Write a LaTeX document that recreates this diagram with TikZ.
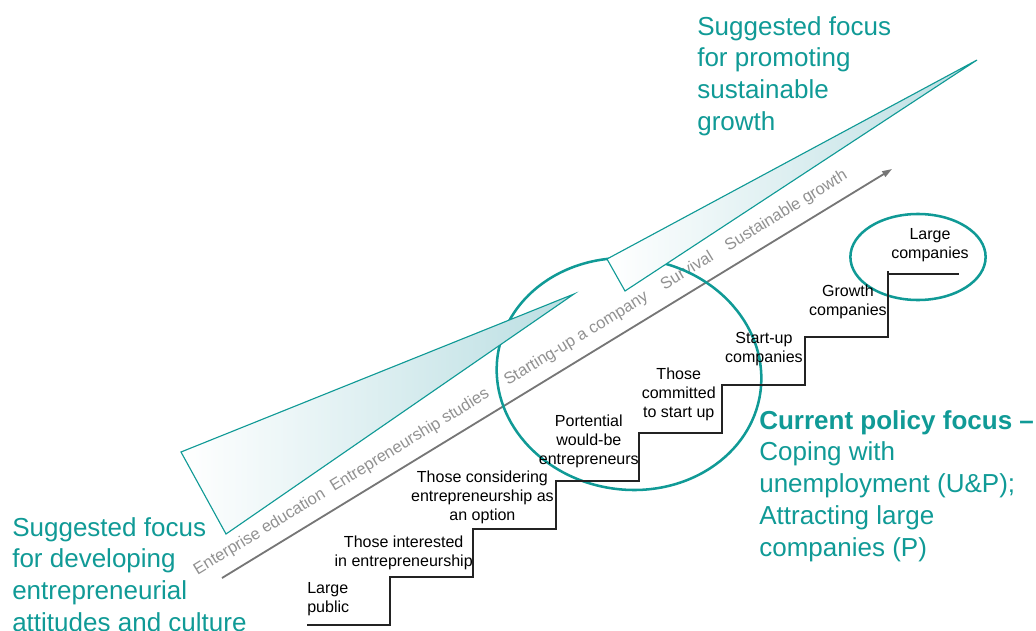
\documentclass[tikz,border=0pt]{standalone}
\usepackage{fontspec}
\setmainfont{Liberation Sans}
\usetikzlibrary{arrows.meta, shapes.geometric}

\definecolor{focusteal}{RGB}{16,154,150}
\definecolor{wedgefill}{RGB}{186,222,226}
\definecolor{axisgray}{RGB}{118,118,118}
\definecolor{labelgray}{RGB}{145,145,145}
\definecolor{stairink}{RGB}{35,35,35}

\begin{document}
\begin{tikzpicture}[
    x=0.025cm, y=-0.025cm,
    focus text/.style={
        text=focusteal, align=left, inner sep=0pt, anchor=north west,
        font=\fontsize{18.5}{22.6}\selectfont
    },
    step label/.style={
        text=black, align=center, inner sep=0pt, anchor=north east,
        font=\fontsize{11.4}{13.5}\selectfont
    },
    axis label/.style={
        text=labelgray, anchor=base, inner sep=0pt, transform shape,
        font=\fontsize{11.7}{14}\selectfont
    },
    axis line/.style={draw=axisgray, line width=1.3pt, -{Triangle[length=7pt, width=4.5pt]}},
    wedge/.style={draw=focusteal, line width=0.8pt, left color=white, right color=wedgefill},
    ring/.style={draw=focusteal, line width=1.8pt, ellipse, inner sep=0pt},
    stair/.style={draw=stairink, line width=1.4pt}
]

% Page frame (pixel units, y grows downwards)
\useasboundingbox (0,0) rectangle (1036,630);

% ------------------------------------------------------------------------------
% 1. DEVELOPMENT AXIS (rotated frame, labels ride above the line)
% ------------------------------------------------------------------------------
\begin{scope}[shift={(222,578)}, rotate=31.4]
    \draw[axis line] (0,0) coordinate (axs) -- (785,0) coordinate (axe);
    \node[axis label] (edu)      at (56,-15)  {Enterprise education};
    \node[axis label] (studies)  at (232,-15) {Entrepreneurship studies};
    \node[axis label] (starting) at (427,-15) {Starting-up a company};
    \node[axis label] (survival) at (557,-15) {Survival};
    \node[axis label] (sustain)  at (673,-15) {Sustainable growth};
\end{scope}

% ------------------------------------------------------------------------------
% 2. POLICY RING, THEN BOTH WEDGES ON TOP OF IT
% ------------------------------------------------------------------------------
\node[ring, minimum width=6.63cm, minimum height=5.78cm, rotate=-8] (policyring) at (629,374) {};
\path[wedge] (181,452) -- (574,294) -- (226,534) -- cycle;
\path[wedge] (607,259) -- (977,60) -- (625,291) -- cycle;
\node[ring, minimum width=3.38cm, minimum height=2.15cm] (largering) at (918,257) {};

% ------------------------------------------------------------------------------
% 3. STAIRCASE
% ------------------------------------------------------------------------------
\draw[stair] (307,625) foreach \i in {0,...,5} { -- ++(83,0) coordinate (t\i) -- ++(0,-48) }
    -- ++(83,0) coordinate (t6) -- ++(0,-66);
\draw[stair] (t6) ++(0,-63) -- ++(71,0);

% Step labels
\node[step label, anchor=north west, align=left] (public) at (307,582) {Large\\public};
\node[step label] (interested)  at (473,536) {Those interested\\in entrepreneurship};
\node[step label] (considering) at (554,471) {Those considering\\entrepreneurship as\\an option};
\node[step label] (wouldbe)     at (639,415) {Portential\\would-be\\entrepreneurs};
\node[step label] (committed)   at (716,368) {Those\\committed\\to start up};
\node[step label] (startup)     at (803,332) {Start-up\\companies};
\node[step label] (growth)      at (887,285) {Growth\\companies};
\node[step label, anchor=north] (large) at (930,228) {Large\\companies};

% ------------------------------------------------------------------------------
% 4. FOCUS NOTES
% ------------------------------------------------------------------------------
\node[focus text] (culture) at (12,517) {Suggested focus\\for developing\\entrepreneurial\\attitudes and culture};
\node[focus text] (promote) at (697,16) {Suggested focus\\for promoting\\sustainable\\growth};
\node[focus text] (policy)  at (759,410) {\textbf{Current policy focus –}\\Coping with\\unemployment (U\&P);\\Attracting large\\companies (P)};

\end{tikzpicture}
\end{document}
